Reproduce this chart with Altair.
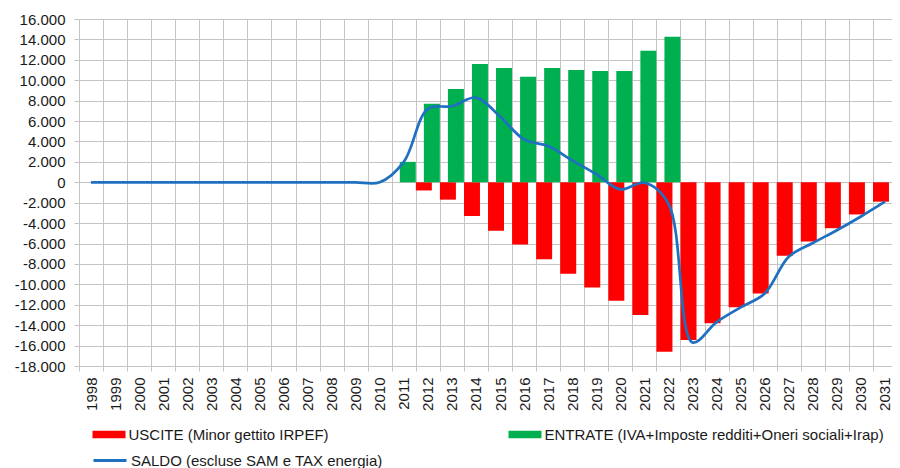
import altair as alt
import pandas as pd

# ---- data ----
years = ["1998", "1999", "2000", "2001", "2002", "2003", "2004", "2005", "2006",
         "2007", "2008", "2009", "2010", "2011", "2012", "2013", "2014", "2015",
         "2016", "2017", "2018", "2019", "2020", "2021", "2022", "2023", "2024",
         "2025", "2026", "2027", "2028", "2029", "2030", "2031"]

uscite_years = ["2012", "2013", "2014", "2015", "2016", "2017", "2018", "2019", "2020",
                "2021", "2022", "2023", "2024", "2025", "2026", "2027", "2028", "2029",
                "2030", "2031"]
uscite = [-800, -1700, -3300, -4750, -6100, -7550, -8950, -10300, -11600, -13000,
          -16600, -15450, -13800, -12250, -10900, -7200, -5800, -4500, -3150, -1900]

entrate_years = ["2011", "2012", "2013", "2014", "2015", "2016", "2017", "2018",
                 "2019", "2020", "2021", "2022"]
entrate = [2000, 7700, 9150, 11600, 11200, 10350, 11200, 11000, 10900, 10900, 12900, 14250]

saldo = [0, 0, 0, 0, 0, 0, 0, 0, 0, 0, 0, 0, 0,
         2000, 7200, 7450, 8300, 6450, 4200, 3550, 2150, 800, -700, -50, -2100,
         -15700, -13700, -12250, -10900, -7300, -5950, -4700, -3350, -1900]

y_ticks = [-18000, -16000, -14000, -12000, -10000, -8000, -6000, -4000, -2000, 0,
           2000, 4000, 6000, 8000, 10000, 12000, 14000, 16000]

lab_u = "USCITE (Minor gettito IRPEF)"
lab_e = "ENTRATE (IVA+Imposte redditi+Oneri sociali+Irap)"
lab_s = "SALDO (escluse SAM e TAX energia)"

df_u = pd.DataFrame({"anno": uscite_years, "valore": uscite, "serie": lab_u})
df_e = pd.DataFrame({"anno": entrate_years, "valore": entrate, "serie": lab_e})
df_s = pd.DataFrame({"anno": years, "valore": saldo, "serie": lab_s})

FONT = "Liberation Sans"
GRID = "#C4C4C4"
TXT = "#1a1a1a"

x = alt.X(
    "anno:N",
    sort=years,
    scale=alt.Scale(domain=years, paddingInner=0, paddingOuter=0),
    axis=alt.Axis(
        title=None, labelAngle=-90, tickBand="extent", tickSize=5, labelPadding=6,
        grid=True, gridColor=GRID, domainColor=GRID, tickColor=GRID,
        labelFont=FONT, labelFontSize=15, labelColor=TXT,
    ),
)
y = alt.Y(
    "valore:Q",
    scale=alt.Scale(domain=[-18000, 16000], nice=False, zero=False),
    axis=alt.Axis(
        title=None, values=y_ticks, tickSize=5, labelPadding=9,
        labelExpr="(datum.value < 0 ? '-' : '') + replace(format(abs(datum.value), ','), ',', '.')",
        grid=True, gridColor=GRID, domainColor=GRID, tickColor=GRID,
        labelFont=FONT, labelFontSize=15, labelColor=TXT,
    ),
)

RECT = "M-1,-0.22H1V0.22H-1Z"
LINE = "M-1,0H1"


def leg(lx, ly, sym, sw=0):
    return alt.Legend(
        orient="none", legendX=lx, legendY=ly, title=None, padding=0,
        symbolType=sym, symbolSize=1089, symbolStrokeWidth=sw,
        labelFont=FONT, labelFontSize=15, labelColor=TXT, labelLimit=700,
        labelOffset=3,
    )


red = alt.Chart(df_u).mark_bar(width=16, xOffset=-4).encode(
    x=x, y=y,
    color=alt.Color("serie:N", scale=alt.Scale(domain=[lab_u], range=["#FF0000"]),
                    legend=leg(13.5, 399, RECT)),
)
green = alt.Chart(df_e).mark_bar(width=16, xOffset=4).encode(
    x=x, y=y,
    fill=alt.Fill("serie:N", scale=alt.Scale(domain=[lab_e], range=["#00B050"]),
                  legend=leg(429.5, 399, RECT)),
)
line = alt.Chart(df_s).mark_line(interpolate="catmull-rom", strokeWidth=2.7).encode(
    x=x, y=y,
    stroke=alt.Stroke("serie:N", scale=alt.Scale(domain=[lab_s], range=["#1F70C1"]),
                      legend=leg(13, 423.5, LINE, 3)),
)

chart = alt.layer(red, green, line).properties(
    width=818, height=347,
    padding={"left": 71, "top": 11, "right": -5, "bottom": 102},
    autosize=alt.AutoSizeParams(type="none"),
    background="white",
).configure_view(strokeWidth=0)

chart.save("out.html", embed_options={"renderer": "svg", "actions": False})
